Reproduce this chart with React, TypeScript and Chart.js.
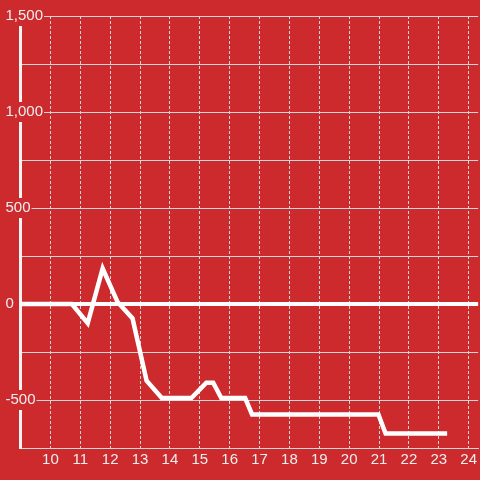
import React, { useEffect, useRef } from "react";
import { Chart, registerables } from "chart.js";

Chart.register(...registerables);

const hours = [9, 10.72, 11.25, 11.75, 12.25, 12.75, 13.22, 13.73, 14.72, 15.22, 15.45, 15.72, 16.52, 16.75, 20.98, 21.22, 23.28];
const values = [0, 0, -100, 185, 10, -75, -400, -490, -490, -410, -410, -490, -490, -575, -575, -675, -675];
const xMin = 9;
const xMax = 24.317;
const yMin = -750;
const yMax = 1500;
const yStep = 250;
const yLabelStep = 500;

const BG = "rgb(205,42,46)";
const GRID = "#d6d6d6";
const TEXT = "#eeeeee";
const FONT = "'Liberation Sans', Arial, sans-serif";

export default function App() {
  const ref = useRef<HTMLCanvasElement>(null);
  useEffect(() => {
    const canvas = ref.current;
    if (!canvas) return;
    const chart = new Chart(canvas, {
      type: "line",
      data: {
        datasets: [
          {
            data: hours.map((h, i) => ({ x: h, y: values[i] })),
            borderColor: "#ffffff",
            borderWidth: 4.5,
            pointRadius: 0,
            tension: 0,
            fill: false,
          },
        ],
      },
      options: {
        responsive: false,
        animation: false,
        layout: { padding: { left: 5, top: 16, right: 0, bottom: 0 } },
        plugins: { legend: { display: false }, tooltip: { enabled: false } },
        scales: {
          x: {
            type: "linear",
            min: xMin,
            max: xMax,
            afterBuildTicks: (s: any) => {
              s.ticks = s.ticks.filter((t: any) => t.value >= 10 && Number.isInteger(t.value));
            },
            afterFit: (s: any) => {
              s.height = 32;
            },
            ticks: {
              stepSize: 1,
              includeBounds: false,
              padding: 3,
              color: TEXT,
              font: { family: FONT, size: 15 },
              maxRotation: 0,
              autoSkip: false,
            },
            grid: { color: GRID, lineWidth: 1, drawTicks: false },
            border: { display: true, color: GRID, width: 1, dash: [3, 2] },
          },
          y: {
            type: "linear",
            min: yMin,
            max: yMax,
            afterFit: (s: any) => {
              s.width = 15.5;
            },
            ticks: {
              stepSize: yStep,
              mirror: true,
              crossAlign: "near",
              padding: -15,
              color: TEXT,
              font: { family: FONT, size: 15 },
              showLabelBackdrop: true,
              backdropColor: BG,
              backdropPadding: 1,
              callback: (v: any) => (Number(v) % yLabelStep === 0 ? Number(v).toLocaleString("en-US") : ""),
            },
            grid: {
              drawTicks: false,
              color: (ctx: any) => (ctx.tick && ctx.tick.value === 0 ? "#ffffff" : GRID),
              lineWidth: (ctx: any) => (ctx.tick && ctx.tick.value === 0 ? 4 : 1),
            },
            border: { display: true, color: "#f4f4f4", width: 3 },
          },
        },
      },
    });
    return () => chart.destroy();
  }, []);
  return (
    <div style={{ position: "fixed", left: 0, top: 0, width: 480, height: 480, background: BG }}>
      <canvas ref={ref} width={480} height={480} style={{ display: "block" }} />
    </div>
  );
}
